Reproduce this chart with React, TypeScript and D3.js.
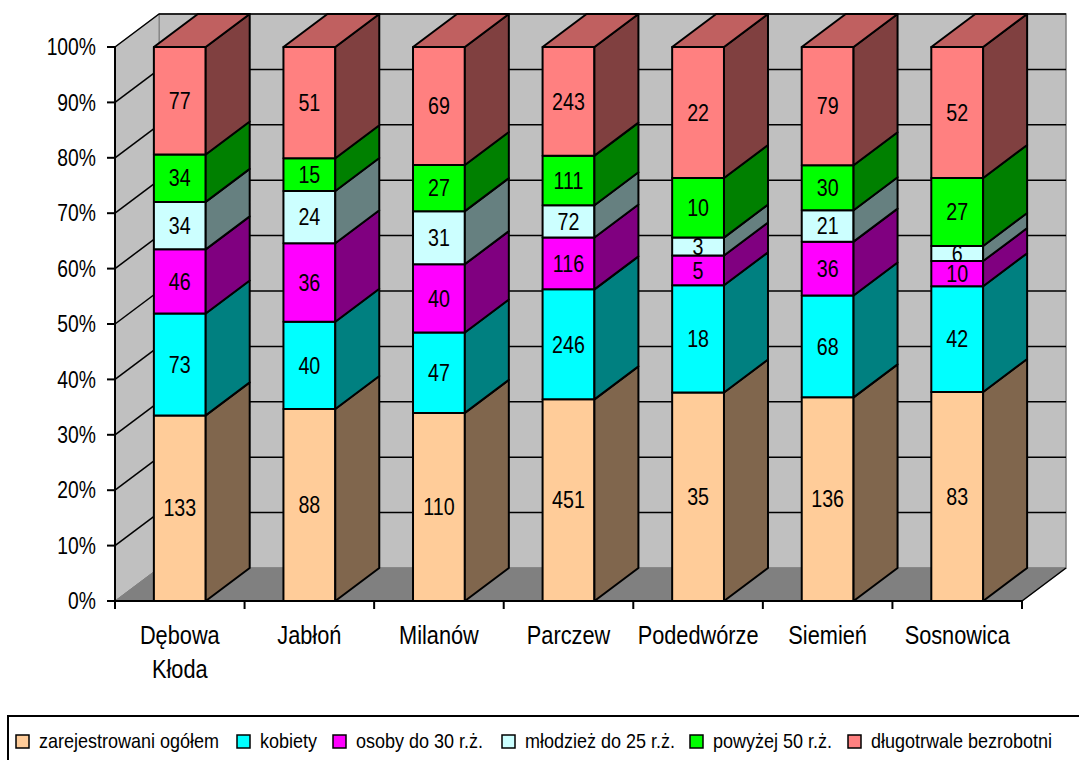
import React from 'react';
import * as d3 from 'd3';

const categories = ['Dębowa Kłoda', 'Jabłoń', 'Milanów', 'Parczew', 'Podedwórze', 'Siemień', 'Sosnowica'];
const seriesNames = ['zarejestrowani ogółem', 'kobiety', 'osoby  do 30 r.ż.', 'młodzież do 25 r.ż.', 'powyżej 50 r.ż.', 'długotrwale bezrobotni'];
const zarejestrowani = [133, 88, 110, 451, 35, 136, 83];
const kobiety = [73, 40, 47, 246, 18, 68, 42];
const osoby30 = [46, 36, 40, 116, 5, 36, 10];
const mlodziez25 = [34, 24, 31, 72, 3, 21, 6];
const powyzej50 = [34, 15, 27, 111, 10, 30, 27];
const dlugotrwale = [77, 51, 69, 243, 22, 79, 52];
const yTicks = [0, 0.1, 0.2, 0.3, 0.4, 0.5, 0.6, 0.7, 0.8, 0.9, 1];

const frontColors = ['#FFCC99', '#00FFFF', '#FF00FF', '#CCFFFF', '#00FF00', '#FF8080'];
const sideColors = ['#80664D', '#008080', '#800080', '#668080', '#008000', '#804040'];
const topColor = '#C06060';
const legendX = [16, 237, 333, 502, 690, 848];

const FONT = '"Liberation Sans", Arial, sans-serif';

function T({ x, y, size, anchor = 'middle', sx = 0.9, children }: any) {
  return (
    <text
      transform={`translate(${x},${y}) scale(${sx},1)`}
      fontFamily={FONT}
      fontSize={size}
      textAnchor={anchor}
      dominantBaseline="central"
      fill="#000"
    >
      {children}
    </text>
  );
}

export default function App() {
  const seriesValues = [zarejestrowani, kobiety, osoby30, mlodziez25, powyzej50, dlugotrwale];
  const rows = categories.map((c, i) => {
    const r: any = { cat: c };
    seriesValues.forEach((s, k) => (r['s' + k] = s[i]));
    return r;
  });
  const keys = seriesValues.map((_, k) => 's' + k);
  const stacked = d3.stack().keys(keys).offset(d3.stackOffsetExpand)(rows);

  const x0 = 115, x1 = 1022;
  const dx = 44, dy = -33;
  const y = d3.scaleLinear().domain([0, 1]).range([601, 47]);
  const xb = d3.scaleBand().domain(categories).range([x0, x1]).padding(0);
  const bw = xb.bandwidth() * 0.4;
  const yB = y(0), yT = y(1);

  const poly = (pts: number[][]) => pts.map((p) => p.join(',')).join(' ');

  return (
    <svg width={1079} height={760} style={{ position: 'absolute', left: 0, top: 0, background: '#fff' }}>
      {/* back wall */}
      <polygon points={poly([[x0 + dx, yT + dy], [x1 + dx, yT + dy], [x1 + dx, yB + dy], [x0 + dx, yB + dy]])} fill="#C0C0C0" stroke="#808080" strokeWidth={1.5} />
      {/* left wall */}
      <polygon points={poly([[x0, yT], [x0 + dx, yT + dy], [x0 + dx, yB + dy], [x0, yB]])} fill="#C0C0C0" stroke="#808080" strokeWidth={1} />
      {/* floor */}
      <polygon points={poly([[x0, yB], [x0 + dx, yB + dy], [x1 + dx, yB + dy], [x1, yB]])} fill="#808080" stroke="#808080" strokeWidth={1} />
      <line x1={x1} y1={yB} x2={x1 + dx} y2={yB + dy} stroke="#000" strokeWidth={1.5} />
      {/* gridlines */}
      {yTicks.slice(1).map((t) => (
        <g key={t}>
          <line x1={x0 + dx} y1={y(t) + dy} x2={x1 + dx} y2={y(t) + dy} stroke="#000" strokeWidth={1.5} />
          <line x1={x0} y1={y(t)} x2={x0 + dx} y2={y(t) + dy} stroke="#000" strokeWidth={1.5} />
        </g>
      ))}
      {/* bars */}
      {categories.map((c, i) => {
        const cx = (xb(c) as number) + xb.bandwidth() / 2;
        const bl = cx - bw / 2, br = cx + bw / 2;
        return (
          <g key={c}>
            {stacked.map((s, k) => {
              const ya = y(s[i][0]), yb = y(s[i][1]);
              return (
                <g key={k}>
                  <polygon points={poly([[bl, yb], [br, yb], [br, ya], [bl, ya]])} fill={frontColors[k]} stroke="#000" strokeWidth={2} strokeLinejoin="round" />
                  <polygon points={poly([[br, yb], [br + dx, yb + dy], [br + dx, ya + dy], [br, ya]])} fill={sideColors[k]} stroke="#000" strokeWidth={2} strokeLinejoin="round" />
                  {k === stacked.length - 1 && (
                    <polygon points={poly([[bl, yb], [bl + dx, yb + dy], [br + dx, yb + dy], [br, yb]])} fill={topColor} stroke="#000" strokeWidth={2} strokeLinejoin="round" />
                  )}
                </g>
              );
            })}
            {stacked.map((s, k) => (
              <T key={'l' + k} x={cx} y={(y(s[i][0]) + y(s[i][1])) / 2} size={24} sx={0.82}>
                {seriesValues[k][i]}
              </T>
            ))}
          </g>
        );
      })}
      {/* axes */}
      <line x1={x0} y1={yT} x2={x0} y2={yB} stroke="#000" strokeWidth={2} />
      <line x1={x0} y1={yB} x2={x1} y2={yB} stroke="#000" strokeWidth={2} />
      {yTicks.map((t) => (
        <g key={'yt' + t}>
          <line x1={x0 - 8} y1={y(t)} x2={x0} y2={y(t)} stroke="#000" strokeWidth={2} />
          <T x={96} y={y(t)} size={23} anchor="end" sx={0.84}>
            {d3.format('.0%')(t)}
          </T>
        </g>
      ))}
      {categories.map((c) => (
        <line key={'xt' + c} x1={xb(c) as number} y1={yB} x2={xb(c) as number} y2={yB + 8} stroke="#000" strokeWidth={2} />
      ))}
      <line x1={x1} y1={yB} x2={x1} y2={yB + 8} stroke="#000" strokeWidth={2} />
      {categories.map((c) => {
        const cx = (xb(c) as number) + xb.bandwidth() / 2;
        const parts = c.split(' ');
        return parts.map((p, j) => (
          <T key={c + j} x={cx} y={635 + j * 34} size={25} sx={0.87}>
            {p}
          </T>
        ));
      })}
      {/* legend */}
      <rect x={8} y={716} width={1090} height={80} fill="none" stroke="#000" strokeWidth={2} />
      {seriesNames.map((n, k) => (
        <g key={'lg' + k}>
          <rect x={legendX[k]} y={735} width={13} height={13} fill={frontColors[k]} stroke="#000" strokeWidth={1.5} />
          <T x={legendX[k] + 23} y={741} size={20} anchor="start" sx={0.9}>
            {n}
          </T>
        </g>
      ))}
    </svg>
  );
}
